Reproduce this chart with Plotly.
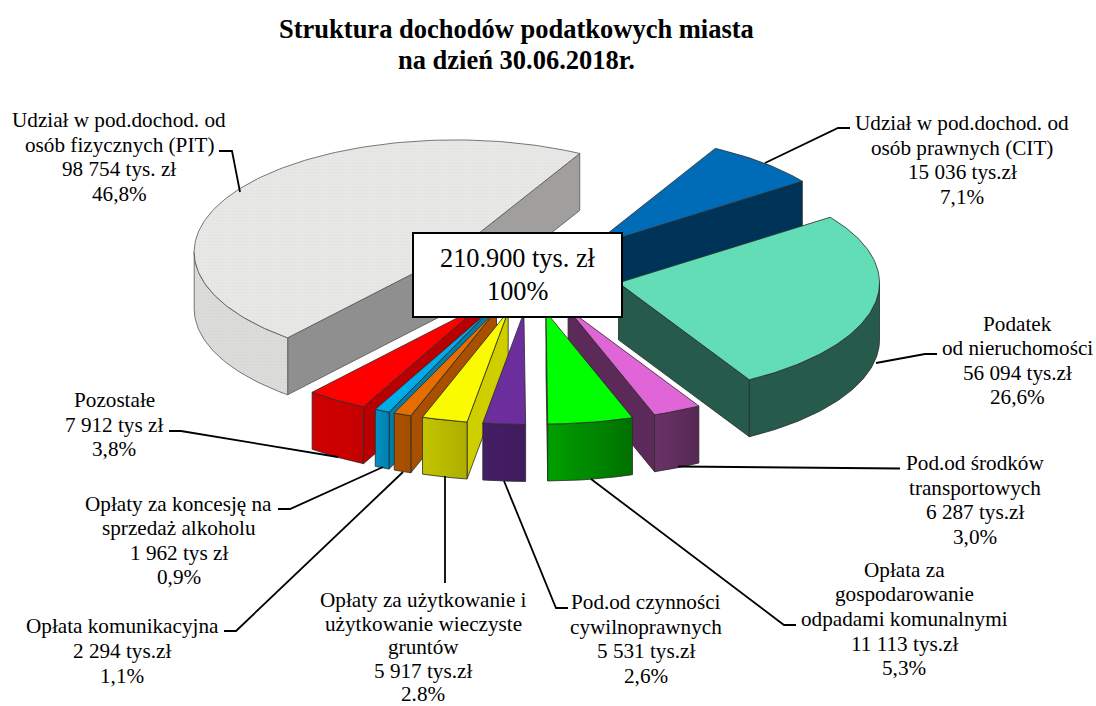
import math
import plotly.graph_objects as go

# ---- data (clockwise from the CIT slice) ----
names = [["Udział w pod.dochod. od", "osób prawnych (CIT)"], ["Podatek", "od nieruchomości"],
         ["Pod.od środków", "transportowych"], ["Opłata za", "gospodarowanie", "odpadami komunalnymi"],
         ["Pod.od czynności", "cywilnoprawnych"], ["Opłaty za użytkowanie i", "użytkowanie wieczyste", "gruntów"],
         ["Opłata komunikacyjna"], ["Opłaty za koncesję na", "sprzedaż alkoholu"], ["Pozostałe"],
         ["Udział w pod.dochod. od", "osób fizycznych (PIT)"]]
values = [15036, 56094, 6287, 11113, 5531, 5917, 2294, 1962, 7912, 98754]
value_text = ["15 036 tys.zł", "56 094 tys.zł", "6 287 tys.zł", "11 113 tys.zł", "5 531 tys.zł",
              "5 917 tys.zł", "2 294 tys.zł", "1 962 tys zł", "7 912 tys zł", "98 754 tys. zł"]
percent_text = ["7,1%", "26,6%", "3,0%", "5,3%", "2,6%", "2.8%", "1,1%", "0,9%", "3,8%", "46,8%"]
title_lines = ["Struktura dochodów podatkowych miasta", "na dzień 30.06.2018r."]
total_text = ["210.900 tys. zł", "100%"]

# ---- styles ----
top_col = ["#006CB8", "#62DDB6", "#E066D8", "#00FF00", "#6C2E9C", "#FAFA00", "#E66E00", "#00ACE8", "#FF0000", "#E6E6E4"]
start_side = ["#003358", "#265A4A", "#5C2A58", "#007000", "#431E62", "#CFCF00", "#A85000", "#007DA8", "#B80000", "#8F8F8F"]
end_side = ["#003358", "#265A4A", "#5C2A58", "#007000", "#431E62", "#CFCF00", "#A85000", "#007DA8", "#B80000", "#A09F9D"]
arc_left = ["#003358", "#265A4A", "#6A3268", "#00A000", "#451E64", "#C4C400", "#AC5200", "#0090C0", "#D20000", "#D8D8D6"]
arc_right = ["#003358", "#265A4A", "#562854", "#007000", "#3F1C5E", "#AEAE00", "#A44E00", "#0082B0", "#C40000", "#E2E2E0"]
label_pos = [(962, 160), (1017, 360.5), (975, 500), (904, 619), (646, 639), (423, 647), (122, 651), (178.6, 540.5), (114, 424.5), (119, 157)]
label_step = [24.6, 24.6, 24.6, 24.6, 24.6, 23.5, 24.6, 24.6, 24.6, 24.6]
leaders = [[(850, 128), (838, 128), (765, 163)], [(937, 354), (925, 354), (876, 363)],
           [(900, 468.5), (678, 466.5)], [(796, 625), (784, 625), (591, 479)],
           [(568, 608), (556, 608), (504, 481)], [(445, 583), (445, 476)],
           [(224, 631), (236, 631), (403, 472)], [(278, 509), (290, 509), (383, 467)],
           [(169, 431), (181, 431), (338, 457)], [(219, 151), (232, 151), (240, 192)]]
# small placement corrections of each exploded slice
nudge_x = [0, 0, -1.5, -2, -2.5, -3.5, -5, -5, -5.5, -5.5]
nudge_y = [0, 0, 0, 0, 0, 0, 0, 0, 0, -2]

# ---- pie geometry ----
CX, CY, RX, RY, EXPLODE, DEPTH, START = 533, 275, 261, 112, 0.335, 57, 28.5
FONT = "Liberation Serif"
LABEL_SIZE = 21.2


def pt(apex, deg, r=1.0):
    a = math.radians(deg)
    return apex[0] + r * RX * math.sin(a), apex[1] - r * RY * math.cos(a)


def down(points):
    return [(x, y + DEPTH) for x, y in points]


def arc(apex, a, b):
    n = max(2, int(abs(b - a)) + 1)
    return [pt(apex, a + (b - a) * i / n) for i in range(n + 1)]


fig = go.Figure()


def face(points, color, line="#2A2A2A", lw=0.8, **extra):
    xs = [p[0] for p in points] + [points[0][0]]
    ys = [p[1] for p in points] + [points[0][1]]
    fig.add_trace(go.Scatter(x=xs, y=ys, mode="lines", fill="toself", fillcolor=color,
                             line=dict(color=line, width=lw), hoverinfo="skip",
                             showlegend=False, **extra))


def text_block(lines, cx, cy, step, size, bold=False):
    for k, line in enumerate(lines):
        fig.add_annotation(x=cx, y=cy + (k - (len(lines) - 1) / 2) * step, xref="x", yref="y",
                           showarrow=False, align="center",
                           text=f"<b>{line}</b>" if bold else line,
                           font=dict(family=FONT, size=size, color="black"))


total = sum(values)
slices, cum = [], START
for i, v in enumerate(values):
    span = v / total * 360
    slices.append((i, cum, cum + span))
    cum += span
# paint from back to front
slices.sort(key=lambda s: -math.cos(math.radians((s[1] + s[2]) / 2)))

for i, a, b in slices:
    mid = (a + b) / 2
    ax, ay = pt((CX, CY), mid, EXPLODE)
    apex = (ax + nudge_x[i], ay + nudge_y[i])
    is_pit = i == len(values) - 1
    edge = "#555555" if is_pit else "#2A2A2A"
    # straight sides facing the viewer
    if math.sin(math.radians(a)) < 0:
        p = [apex, pt(apex, a)]
        face(p + down(p)[::-1], start_side[i], edge)
    if math.sin(math.radians(b)) > 0:
        p = [apex, pt(apex, b)]
        face(p + down(p)[::-1], end_side[i], edge)
    # curved outer wall (the part facing the viewer)
    ranges = [(max(a + k * 360, 90), min(b + k * 360, 270)) for k in (0, -1)]
    for lo, hi in ranges:
        if hi > lo:
            p = arc(apex, lo, hi)
            extra = dict(fillgradient=dict(type="horizontal",
                                           colorscale=[[0, arc_left[i]], [1, arc_right[i]]]))
            if is_pit:
                extra = dict(fillpattern=dict(shape=".", bgcolor="#DCDCDA", fgcolor="#CFCFCD",
                                              size=3, solidity=0.3))
            face(p + down(p)[::-1], arc_left[i], edge, **extra)
    # top surface
    extra = {}
    if is_pit:
        extra = dict(fillpattern=dict(shape=".", bgcolor="#E8E8E6", fgcolor="#DCDCDA",
                                      size=3, solidity=0.3))
    face([apex] + arc(apex, a, b), top_col[i], edge, **extra)

# leader lines
for seg in leaders:
    fig.add_trace(go.Scatter(x=[p[0] for p in seg], y=[p[1] for p in seg], mode="lines",
                             line=dict(color="black", width=1.8), hoverinfo="skip", showlegend=False))

# labels
for i in range(len(values)):
    text_block(names[i] + [value_text[i], percent_text[i]], label_pos[i][0], label_pos[i][1],
               label_step[i], LABEL_SIZE)

# title
text_block(title_lines, 516, 44, 31, 26.5, bold=True)

# centre box
fig.add_shape(type="rect", x0=413, x1=622, y0=233, y1=317, xref="x", yref="y",
              fillcolor="white", line=dict(color="black", width=2), layer="above")
text_block(total_text, 517.5, 275, 33, 26.3)

fig.update_layout(width=1096, height=706, margin=dict(l=0, r=0, t=0, b=0),
                  paper_bgcolor="white", plot_bgcolor="white", showlegend=False,
                  xaxis=dict(range=[0, 1096], visible=False, fixedrange=True),
                  yaxis=dict(range=[706, 0], visible=False, fixedrange=True))
fig.write_html("out.html", post_script="document.body.style.margin='0';",
               config=dict(displayModeBar=False))
